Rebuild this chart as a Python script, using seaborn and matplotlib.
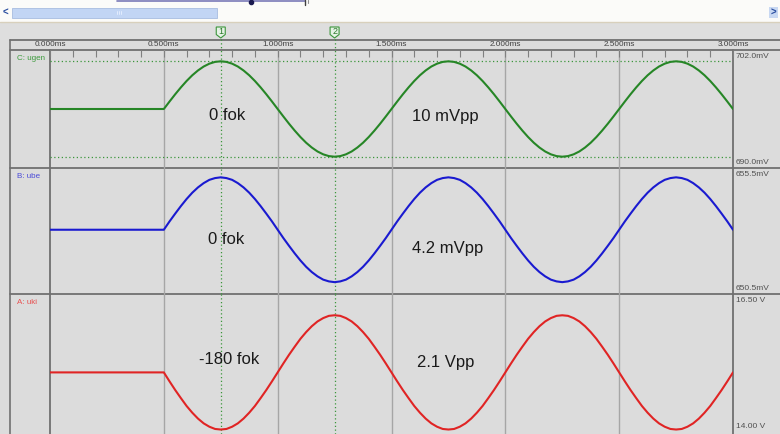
import numpy as np
import matplotlib.pyplot as plt
import matplotlib.patches as mpatches
import seaborn as sns

sns.set_style('white')
plt.rcParams['font.family'] = ['Liberation Sans', 'DejaVu Sans']

# --- data ----------------------------------------------------------------
t_ms = [0.0,
        0.5, 0.525, 0.55, 0.575, 0.6, 0.625, 0.65, 0.675, 0.7, 0.725,
        0.75, 0.775, 0.8, 0.825, 0.85, 0.875, 0.9, 0.925, 0.95, 0.975,
        1.0, 1.025, 1.05, 1.075, 1.1, 1.125, 1.15, 1.175, 1.2, 1.225,
        1.25, 1.275, 1.3, 1.325, 1.35, 1.375, 1.4, 1.425, 1.45, 1.475,
        1.5, 1.525, 1.55, 1.575, 1.6, 1.625, 1.65, 1.675, 1.7, 1.725,
        1.75, 1.775, 1.8, 1.825, 1.85, 1.875, 1.9, 1.925, 1.95, 1.975,
        2.0, 2.025, 2.05, 2.075, 2.1, 2.125, 2.15, 2.175, 2.2, 2.225,
        2.25, 2.275, 2.3, 2.325, 2.35, 2.375, 2.4, 2.425, 2.45, 2.475,
        2.5, 2.525, 2.55, 2.575, 2.6, 2.625, 2.65, 2.675, 2.7, 2.725,
        2.75, 2.775, 2.8, 2.825, 2.85, 2.875, 2.9, 2.925, 2.95, 2.975,
        3.0]

# C: ugen (mV)
ugen_mv = [696.0,
           696.0, 696.76, 697.5, 698.2, 698.85, 699.43, 699.92, 700.32, 700.61, 700.79,
           700.85, 700.79, 700.61, 700.32, 699.92, 699.43, 698.85, 698.2, 697.5, 696.76,
           696.0, 695.24, 694.5, 693.8, 693.15, 692.57, 692.08, 691.68, 691.39, 691.21,
           691.15, 691.21, 691.39, 691.68, 692.08, 692.57, 693.15, 693.8, 694.5, 695.24,
           696.0, 696.76, 697.5, 698.2, 698.85, 699.43, 699.92, 700.32, 700.61, 700.79,
           700.85, 700.79, 700.61, 700.32, 699.92, 699.43, 698.85, 698.2, 697.5, 696.76,
           696.0, 695.24, 694.5, 693.8, 693.15, 692.57, 692.08, 691.68, 691.39, 691.21,
           691.15, 691.21, 691.39, 691.68, 692.08, 692.57, 693.15, 693.8, 694.5, 695.24,
           696.0, 696.76, 697.5, 698.2, 698.85, 699.43, 699.92, 700.32, 700.61, 700.79,
           700.85, 700.79, 700.61, 700.32, 699.92, 699.43, 698.85, 698.2, 697.5, 696.76,
           696.0]

# B: ube (mV)
ube_mv = [653.05,
          653.05, 653.38, 653.69, 653.99, 654.27, 654.52, 654.73, 654.9, 655.03, 655.1,
          655.13, 655.1, 655.03, 654.9, 654.73, 654.52, 654.27, 653.99, 653.69, 653.38,
          653.05, 652.72, 652.41, 652.11, 651.83, 651.58, 651.37, 651.2, 651.07, 651.0,
          650.97, 651.0, 651.07, 651.2, 651.37, 651.58, 651.83, 652.11, 652.41, 652.72,
          653.05, 653.38, 653.69, 653.99, 654.27, 654.52, 654.73, 654.9, 655.03, 655.1,
          655.13, 655.1, 655.03, 654.9, 654.73, 654.52, 654.27, 653.99, 653.69, 653.38,
          653.05, 652.72, 652.41, 652.11, 651.83, 651.58, 651.37, 651.2, 651.07, 651.0,
          650.97, 651.0, 651.07, 651.2, 651.37, 651.58, 651.83, 652.11, 652.41, 652.72,
          653.05, 653.38, 653.69, 653.99, 654.27, 654.52, 654.73, 654.9, 655.03, 655.1,
          655.13, 655.1, 655.03, 654.9, 654.73, 654.52, 654.27, 653.99, 653.69, 653.38,
          653.05]

# A: uki (V)
uki_v = [15.10,
         15.1, 14.94, 14.785, 14.64, 14.5, 14.38, 14.275, 14.19, 14.13, 14.09,
         14.08, 14.09, 14.13, 14.19, 14.275, 14.38, 14.5, 14.64, 14.785, 14.94,
         15.1, 15.26, 15.415, 15.56, 15.7, 15.82, 15.925, 16.01, 16.07, 16.11,
         16.12, 16.11, 16.07, 16.01, 15.925, 15.82, 15.7, 15.56, 15.415, 15.26,
         15.1, 14.94, 14.785, 14.64, 14.5, 14.38, 14.275, 14.19, 14.13, 14.09,
         14.08, 14.09, 14.13, 14.19, 14.275, 14.38, 14.5, 14.64, 14.785, 14.94,
         15.1, 15.26, 15.415, 15.56, 15.7, 15.82, 15.925, 16.01, 16.07, 16.11,
         16.12, 16.11, 16.07, 16.01, 15.925, 15.82, 15.7, 15.56, 15.415, 15.26,
         15.1, 14.94, 14.785, 14.64, 14.5, 14.38, 14.275, 14.19, 14.13, 14.09,
         14.08, 14.09, 14.13, 14.19, 14.275, 14.38, 14.5, 14.64, 14.785, 14.94,
         15.1]

time_ticks = [0.0, 0.5, 1.0, 1.5, 2.0, 2.5, 3.0]
time_labels = ['0.000ms', '0.500ms', '1.000ms', '1.500ms', '2.000ms', '2.500ms', '3.000ms']
cursor_ms = [0.75, 1.25]
ugen_cursor_mv = [700.85, 691.15]

channels = [
    # name, values, ylim, top label, bottom label, colour, note left, note right
    ('C: ugen', ugen_mv, (690.0, 702.0), '702.0mV', '690.0mV', '#268626', '0 fok', '10 mVpp'),
    ('B: ube', ube_mv, (650.5, 655.5), '655.5mV', '650.5mV', '#1a1ad0', '0 fok', '4.2 mVpp'),
    ('A: uki', uki_v, (14.0, 16.5), '16.50 V', '14.00 V', '#e02424', '-180 fok', '2.1 Vpp'),
]
label_cols = ['#3c9a3c', '#4a4ad8', '#e85050']
note_pos = [((227, 115), (445, 117)), ((226, 239), (448, 248)), ((229, 360), (446, 362))]

# --- layout in screen pixels ---------------------------------------------
W, H = 780, 434
X0, X1 = 50, 733
panel_y = [(50, 168), (168, 294), (294, 434)]
BG = '#dcdcdc'
LINE = '#707070'
CUR = '#3c963c'

fig = plt.figure(figsize=(W / 100, H / 100), dpi=100, facecolor=BG)


def fx(x):
    return x / W


def fy(y):
    return 1 - y / H


# chrome drawn in a full-figure axes with pixel coordinates
bg = fig.add_axes([0, 0, 1, 1])
bg.set_xlim(0, W)
bg.set_ylim(H, 0)
bg.axis('off')

bg.add_patch(mpatches.Rectangle((0, 0), W, 22, facecolor='#fbfbf9', edgecolor='none'))
bg.plot([0, W], [22, 22], color='#d8d0bc', lw=1)
bg.add_patch(mpatches.Rectangle((0, 23), W, 17, facecolor='#dedede', edgecolor='none'))
# top widget fragment
bg.plot([117, 305], [0.5, 0.5], color='#7a7ab8', lw=1.2)
bg.plot([251], [1.5], 'o', color='#1a1a50', ms=3)
bg.plot([305, 305], [0, 5], color='#404040', lw=1)
bg.plot([308, 308], [0, 3], color='#909090', lw=0.8)
# scrollbar
bg.add_patch(mpatches.Rectangle((12, 7.5), 205, 10.5, facecolor='#c2d5f4', edgecolor='#a8bde0', lw=0.6))
for gx in [117, 119, 121]:
    bg.plot([gx, gx], [11, 14], color='#e8f0ff', lw=0.6)
bg.text(5, 12.5, '<', color='#2a4ea0', fontsize=7, ha='center', va='center', fontweight='bold')
bg.add_patch(mpatches.Rectangle((769, 7), 9, 11, facecolor='#c8d8f2', edgecolor='none'))
bg.text(773.5, 12.5, '>', color='#2a4ea0', fontsize=7, ha='center', va='center', fontweight='bold')

# frame lines
for y in [40, 50, 168, 294]:
    bg.plot([10, W], [y, y], color=LINE, lw=1.3)
bg.plot([10, 10], [40, H], color=LINE, lw=1.2)
bg.plot([X0, X0], [50, H], color=LINE, lw=1.3)
bg.plot([X1, X1], [50, H], color=LINE, lw=1.3)

# cursor flags
for i, cx_ms in enumerate(cursor_ms):
    cx = X0 + cx_ms / 3.0 * (X1 - X0)
    bg.add_patch(mpatches.Polygon([(cx - 4.5, 27), (cx + 4.5, 27), (cx + 4.5, 34.5), (cx, 38), (cx - 4.5, 34.5)],
                                  closed=True, facecolor='#e6f2e6', edgecolor=CUR, lw=0.8))
    bg.text(cx, 31.3, str(i + 1), color='#2a7a2a', fontsize=6.5, ha='center', va='center')
    bg.plot([cx, cx], [38.5, 50], color=CUR, lw=0.9, ls=(0, (1, 2)))

# --- the three traces ----------------------------------------------------
for k, (name, vals, ylim, top_lbl, bot_lbl, col, n_left, n_right) in enumerate(channels):
    ya, yb = panel_y[k]
    ax = fig.add_axes([fx(X0), fy(yb), fx(X1 - X0), (yb - ya) / H])
    ax.patch.set_alpha(0)
    for s in ax.spines.values():
        s.set_visible(False)
    ax.set_xlim(0, 3.0)
    ax.set_ylim(*ylim)
    for g in time_ticks[1:-1]:
        ax.axvline(g, color='#a6a6a6', lw=1, zorder=0)
    for c in cursor_ms:
        ax.axvline(c, color=CUR, lw=0.9, ls=(0, (1, 2)), zorder=1)
    sns.lineplot(x=t_ms, y=vals, ax=ax, color=col, lw=1.5, estimator=None, zorder=3)
    ax.set_yticks([])
    ax.set_xlabel('')
    ax.set_ylabel('')
    if k == 0:
        for h in ugen_cursor_mv:
            ax.axhline(h, color=CUR, lw=0.9, ls=(0, (1, 2)), zorder=1)
        ax.set_xticks(time_ticks)
        ax.set_xticklabels(time_labels)
        ax.set_xticks(np.arange(0.1, 3.0, 0.1), minor=True)
        ax.tick_params(axis='x', which='both', top=True, bottom=False, direction='in',
                       length=5, width=0.8, color='#808080', labeltop=True, labelbottom=False,
                       pad=1.4, labelsize=5.9, labelcolor='#404040')
    else:
        ax.set_xticks([])

    fig.text(fx(17), fy(ya + 8), name, color=label_cols[k], fontsize=5.8, ha='left', va='center')
    fig.text(fx(736), fy(ya + 7), top_lbl, color='#505050', fontsize=6, ha='left', va='center')
    fig.text(fx(736), fy(yb - 5 if k < 2 else yb - 7), bot_lbl, color='#505050', fontsize=6,
             ha='left', va='center')
    (lx, ly), (rx, ry) = note_pos[k]
    fig.text(fx(lx), fy(ly), n_left, color='#1a1a1a', fontsize=12, ha='center', va='center')
    fig.text(fx(rx), fy(ry), n_right, color='#1a1a1a', fontsize=12, ha='center', va='center')

fig.savefig('out.png', dpi=100, facecolor=BG)
